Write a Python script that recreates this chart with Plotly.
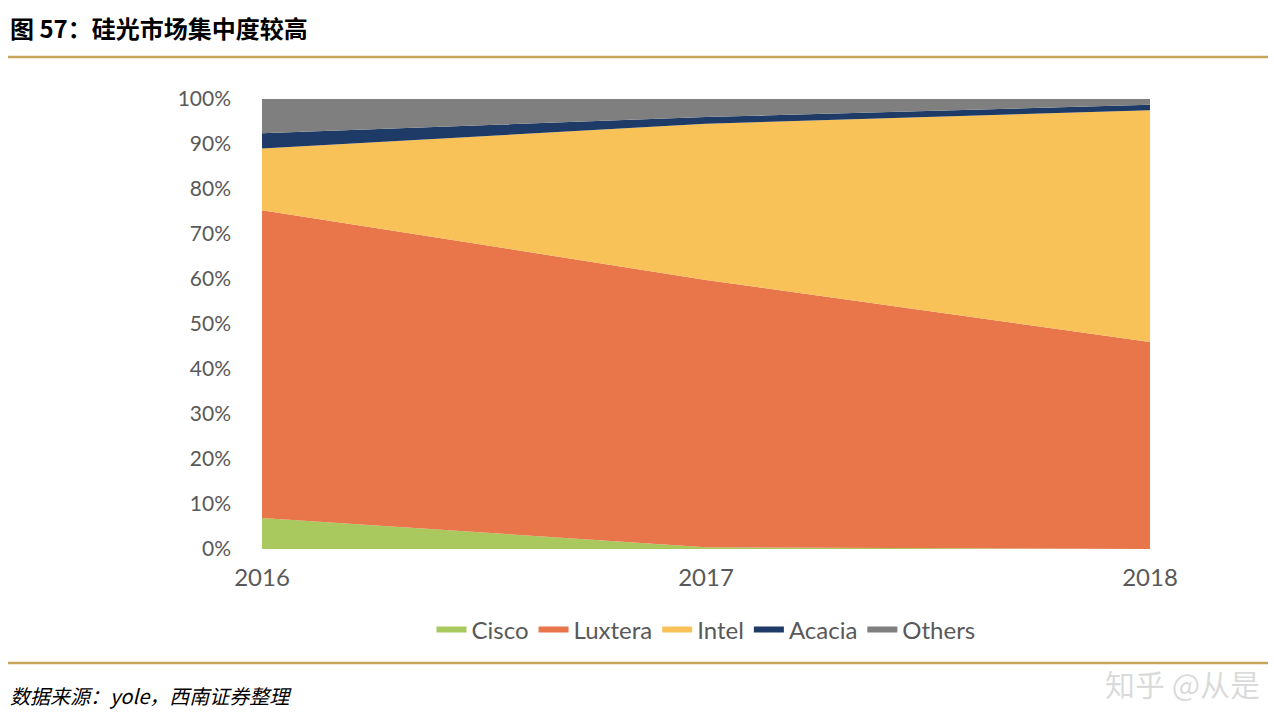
import plotly.graph_objects as go

years = [2016, 2017, 2018]
cisco = [6.9, 0.4, 0.0]
luxtera = [68.4, 59.4, 46.0]
intel = [13.7, 34.7, 51.5]
acacia = [3.4, 1.5, 1.2]
others = [7.6, 4.0, 1.3]
series = [("Cisco", cisco, "#A9C95E"), ("Luxtera", luxtera, "#E8764A"),
          ("Intel", intel, "#F9C258"), ("Acacia", acacia, "#1E3A66"),
          ("Others", others, "#7F7F7F")]
yticks = [0, 10, 20, 30, 40, 50, 60, 70, 80, 90, 100]

OX, OY = 8, 8  # page body offset
L, T, W, H = 262 - OX, 99 - OY, 888, 450

fig = go.Figure()
for name, vals, col in series:
    fig.add_trace(go.Scatter(x=years, y=vals, name=name, stackgroup="one",
                             mode="none", fillcolor=col))

def px(x):
    return (x - OX - L) / W

def py(y):
    return (T + H - (y - OY)) / H

fig.update_layout(
    width=1276, height=728, paper_bgcolor="white", plot_bgcolor="white",
    margin=dict(l=L, r=1276 - L - W, t=T, b=728 - T - H),
    font=dict(family="Lato, sans-serif", color="#595959"),
    xaxis=dict(range=[2016, 2018], tickvals=years, ticktext=[str(y) for y in years],
               showgrid=False, zeroline=False, ticks="", tickfont=dict(size=24),
               ticklabelstandoff=12),
    yaxis=dict(range=[0, 100], tickvals=yticks, ticktext=[f"{v}%" for v in yticks],
               showgrid=False, zeroline=False, tickfont=dict(size=21),
               ticklabelstandoff=30),
    legend=dict(orientation="h", x=0.5, xanchor="center", y=py(630), yanchor="middle",
                font=dict(size=24, color="#595959"), itemwidth=30, traceorder="normal"),
    showlegend=True,
)
fig.add_annotation(text="<b>图 57：硅光市场集中度较高</b>", xref="paper", yref="paper",
                   x=px(8), y=py(27), xanchor="left", yanchor="middle",
                   showarrow=False, font=dict(size=24, color="black",
                                              family="Noto Sans CJK SC"))
fig.add_annotation(text="<i>数据来源：yole，西南证券整理</i>", xref="paper", yref="paper",
                   x=px(8), y=py(695), xanchor="left", yanchor="middle",
                   showarrow=False, font=dict(size=20, color="black",
                                              family="Noto Sans CJK SC"))
fig.add_annotation(text="知乎 @从是", xref="paper", yref="paper",
                   x=px(1262), y=py(683), xanchor="right", yanchor="middle",
                   showarrow=False, font=dict(size=30, color="rgba(150,150,150,0.35)",
                                              family="Noto Sans CJK SC"))
for yp in [57, 663]:
    fig.add_shape(type="line", xref="paper", yref="paper",
                  x0=px(4), x1=px(1274), y0=py(yp), y1=py(yp),
                  line=dict(color="#C8A45C", width=2.5))
fig.write_html("out.html")
